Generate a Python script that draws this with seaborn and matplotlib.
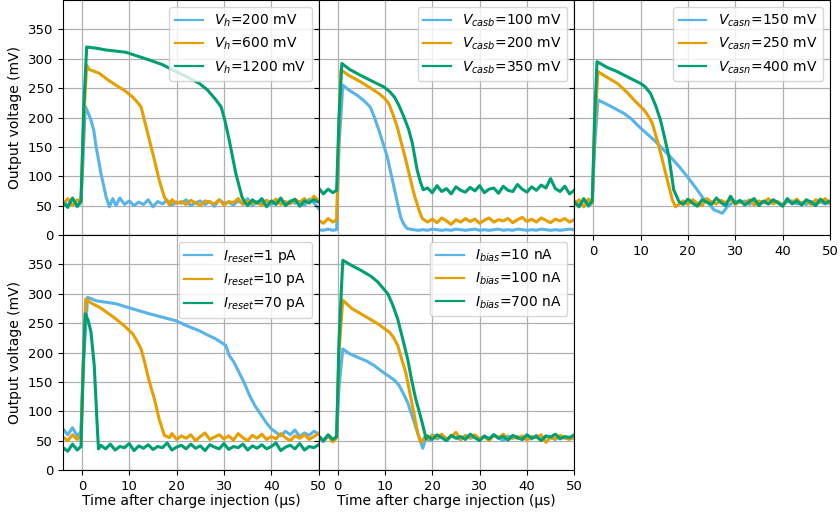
import matplotlib
matplotlib.use("Agg")
import matplotlib.pyplot as plt
import seaborn as sns

# colours for the three settings in each panel
BLUE, ORANGE, GREEN = "#56B4E9", "#E69F00", "#009E73"

PRE_T = [-4, -3, -2, -1, -0.2]

# --- panel 1: V_h ---
vh200_t = PRE_T + [0.3, 0.7, 1.2, 1.9, 2.5, 3.0, 3.5, 4.0, 4.6, 5.1, 5.8, 6.5, 7.2, 8, 9] + list(range(10, 51))
vh200_v = [58, 50, 62, 48, 55, 140, 219, 210, 196, 178, 150, 128, 105, 84, 65, 48, 62, 50, 63, 52,
           58, 50, 56, 52, 60, 48, 57, 53, 59, 51,
           56, 54, 60, 50, 55, 58, 52, 57, 49, 60,
           54, 56, 51, 58, 53, 62, 50, 57, 55, 59,
           52, 56, 60, 51, 58, 54, 57, 50, 61, 55, 45]
vh600_t = PRE_T + [0.4, 1.0, 1.5, 3.7, 5.5, 7.2, 9, 10.7, 11.7, 12.5, 13.2, 13.9, 14.6, 15.3, 16.3, 17.4, 18.5] + list(range(19, 51))
vh600_v = [52, 62, 50, 60, 56, 200, 289, 282, 275, 264, 255, 246, 235, 226, 218, 195, 173, 150, 128, 94, 65, 51,
           60, 54, 57, 52, 59, 55, 50, 58, 56, 53,
           60, 51, 57, 55, 62, 52, 58, 54, 56, 50,
           59, 55, 61, 52, 57, 53, 60, 56, 62, 54,
           66, 58]
vh1200_t = PRE_T + [0.4, 1.0, 3, 5, 9.3, 14.2, 17, 19.9, 22, 24.8, 26.5, 28.3, 29.4, 30.2, 31.1, 32.5, 33.8, 34.3] + list(range(35, 51))
vh1200_v = [55, 47, 63, 49, 58, 220, 320, 318, 315, 311, 298, 290, 278, 270, 258, 247, 230, 218, 195, 162, 105, 65, 57,
            50, 60, 54, 62, 48, 58, 52, 63, 50, 57,
            61, 49, 58, 55, 60, 56]

# --- panel 2: V_casb ---
casb100_t = PRE_T + [0.3, 1.1, 2.5, 4.1, 5.5, 6.9, 7.8, 8.7, 9.6, 10.5, 11.9, 13.3, 14.0, 14.7, 16] + list(range(17, 51))
casb100_v = [9, 8, 10, 8, 9, 150, 255, 246, 238, 229, 218, 200, 179, 156, 133, 82, 31, 18, 11, 9,
             8, 9, 8, 10, 9, 8, 9, 8, 10, 9,
             8, 9, 10, 8, 9, 8, 9, 10, 8, 9,
             8, 10, 9, 8, 9, 8, 10, 9, 8, 9,
             8, 9, 10, 9]
casb200_t = PRE_T + [0.3, 0.7, 2.5, 4.8, 7, 8.7, 10, 10.8, 11.7, 12.6, 13.5, 14.4, 16.1, 17.3, 17.9, 19] + list(range(20, 51))
casb200_v = [25, 20, 28, 22, 26, 180, 281, 271, 261, 250, 241, 232, 224, 205, 184, 156, 128, 71, 40, 28, 22,
             27, 21, 29, 24, 18, 26, 22, 28, 23, 27,
             20, 25, 29, 22, 26, 24, 28, 21, 26, 30,
             23, 27, 22, 29, 25, 21, 27, 24, 28, 22,
             26]
casb350_t = PRE_T + [0.3, 0.9, 2.5, 4.8, 7, 9.8, 11, 12, 13, 14, 15, 15.8, 16.8, 17.5, 18.1] + list(range(19, 51))
casb350_v = [80, 70, 78, 72, 76, 200, 292, 282, 272, 263, 252, 244, 235, 220, 201, 180, 156, 111, 90, 77,
             80, 72, 84, 74, 79, 70, 82, 76, 73, 81,
             75, 84, 72, 78, 80, 71, 83, 76, 74, 86,
             78, 73, 82, 76, 85, 80, 96, 79, 74, 83,
             70, 76]

# --- panel 3: V_casn ---
casn150_t = PRE_T + [0.3, 1.0, 3, 6.5, 8, 10, 12.8, 14.5, 16.3, 18, 19.9, 21.5, 23, 24.2, 25.5, 27.3, 28.3, 29.7] + list(range(31, 51))
casn150_v = [58, 50, 60, 49, 55, 150, 230, 222, 207, 198, 182, 162, 148, 133, 118, 99, 82, 65, 55, 43, 37, 48, 57,
             55, 58, 52, 57, 54, 56, 53, 57, 55, 52,
             56, 58, 53, 55, 52, 57, 54, 56, 53, 55]
casn250_t = PRE_T + [0.3, 1.0, 3, 5.1, 7, 8.6, 10.7, 11.6, 12.5, 13.2, 13.9, 15.3, 16.7, 17.4, 18.5] + list(range(19, 51))
casn250_v = [52, 60, 48, 61, 54, 180, 278, 268, 258, 244, 230, 213, 203, 190, 170, 150, 105, 60, 48, 55,
             58, 52, 60, 54, 50, 62, 56, 53, 59, 55,
             61, 52, 57, 54, 60, 51, 58, 55, 62, 53,
             57, 50, 59, 55, 61, 53, 58, 52, 60, 56,
             62, 54]
casn400_t = PRE_T + [0.3, 0.8, 3, 5.1, 7.5, 10, 11, 12.1, 13.2, 14.2, 15.1, 16, 17, 18.1] + list(range(19, 51))
casn400_v = [56, 48, 62, 50, 58, 200, 295, 285, 278, 268, 258, 252, 241, 220, 196, 165, 133, 77, 57,
             52, 61, 54, 49, 60, 56, 52, 63, 55, 50,
             66, 54, 59, 51, 57, 62, 50, 58, 53, 60,
             55, 49, 62, 53, 58, 51, 60, 56, 50, 61,
             54, 58]

# --- panel 4: I_reset ---
reset1_t = PRE_T + [0.3, 1.2, 3, 7.2, 10, 14.2, 17, 19.9, 22, 24.8, 26.5, 28.3, 30.4, 31.1, 32, 33.2, 34.3,
                    35.4, 36.5, 37.5, 38.9, 40, 41] + list(range(42, 51))
reset1_v = [70, 60, 72, 58, 66, 180, 294, 288, 283, 276, 266, 260, 254, 246, 237, 230, 223, 212, 195, 185, 166, 148,
            127, 110, 98, 81, 70, 64,
            58, 66, 60, 68, 57, 63, 59, 66, 61]
reset10_t = PRE_T + [0.3, 0.8, 2, 3.7, 5.5, 7.2, 9, 10.7, 11.6, 12.5, 13.2, 13.9, 14.6, 15.3, 16.3, 17.4, 18.5] + list(range(19, 51))
reset10_v = [56, 50, 60, 52, 58, 190, 291, 284, 277, 267, 257, 245, 232, 220, 206, 185, 161, 140, 121, 87, 59, 55,
             62, 52, 58, 54, 60, 50, 57, 63, 52, 56,
             60, 53, 58, 51, 62, 55, 50, 59, 54, 61,
             52, 57, 53, 62, 55, 50, 58, 54, 60, 52,
             57, 62]
reset70_t = PRE_T + [0.3, 0.7, 1.3, 1.9, 2.6, 3.3, 3.5] + list(range(4, 51))
reset70_v = [38, 32, 44, 34, 40, 180, 266, 255, 235, 178, 64, 36,
             42, 36, 44, 34, 40, 38, 45, 33, 41, 37,
             43, 35, 40, 38, 46, 34, 39, 42, 36, 44,
             37, 41, 33, 43, 39, 36, 45, 35, 40, 38,
             44, 34, 41, 37, 43, 36, 40, 46, 33, 39,
             42, 36, 45, 34, 40, 38, 43]

# --- panel 5: I_bias ---
bias10_t = PRE_T + [0.3, 1.1, 2.5, 4.2, 6, 7.7, 9, 10.6, 12, 13, 13.9, 14.8, 16.2, 17.3, 18, 18.7, 19.5] + list(range(20, 51))
bias10_v = [54, 48, 58, 50, 56, 140, 206, 198, 192, 186, 178, 170, 161, 153, 144, 130, 115, 81, 53, 37, 56, 50,
            60, 53, 57, 50, 58, 55, 52, 59, 54, 56,
            51, 57, 53, 60, 55, 50, 58, 54, 57, 52,
            56, 53, 59, 51, 57, 55, 52, 58, 54, 56,
            53]
bias100_t = PRE_T + [0.3, 1.1, 3, 4.9, 7, 8.5, 10, 10.9, 11.8, 12.7, 13.5, 14.4, 15.1, 15.8, 16.9, 17.6, 18.5] + list(range(19, 51))
bias100_v = [56, 50, 58, 48, 55, 200, 289, 275, 266, 256, 249, 240, 235, 226, 212, 190, 166, 138, 110, 64, 47, 57,
             52, 59, 55, 61, 53, 57, 64, 52, 58, 55,
             60, 53, 57, 50, 59, 55, 61, 52, 56, 54,
             58, 51, 57, 55, 60, 47, 56, 53, 59, 55,
             52, 57]
bias700_t = PRE_T + [0.3, 1.1, 3, 4.9, 7, 8.5, 10.6, 11.6, 12.7, 13.7, 14.8, 15.6, 16.5, 17.4, 18.2, 18.7] + list(range(19, 51))
bias700_v = [58, 50, 60, 52, 57, 220, 357, 348, 340, 330, 320, 300, 282, 257, 225, 189, 155, 121, 95, 70, 53,
             58, 52, 60, 55, 50, 59, 54, 57, 52, 61,
             55, 50, 58, 53, 60, 54, 57, 51, 59, 55,
             52, 60, 54, 57, 50, 58, 56, 61, 53, 57,
             55, 60]

panels = [
    [(vh200_t, vh200_v, r"$V_h$=200 mV"), (vh600_t, vh600_v, r"$V_h$=600 mV"), (vh1200_t, vh1200_v, r"$V_h$=1200 mV")],
    [(casb100_t, casb100_v, r"$V_{casb}$=100 mV"), (casb200_t, casb200_v, r"$V_{casb}$=200 mV"), (casb350_t, casb350_v, r"$V_{casb}$=350 mV")],
    [(casn150_t, casn150_v, r"$V_{casn}$=150 mV"), (casn250_t, casn250_v, r"$V_{casn}$=250 mV"), (casn400_t, casn400_v, r"$V_{casn}$=400 mV")],
    [(reset1_t, reset1_v, r"$I_{reset}$=1 pA"), (reset10_t, reset10_v, r"$I_{reset}$=10 pA"), (reset70_t, reset70_v, r"$I_{reset}$=70 pA")],
    [(bias10_t, bias10_v, r"$I_{bias}$=10 nA"), (bias100_t, bias100_v, r"$I_{bias}$=100 nA"), (bias700_t, bias700_v, r"$I_{bias}$=700 nA")],
]

plt.rcParams.update({"font.family": ["DejaVu Sans"], "font.size": 9.5})

fig, axes = plt.subplots(2, 3, figsize=(8.4, 5.14), dpi=100, sharex=True, sharey=True)
fig.subplots_adjust(left=0.075, right=0.988, bottom=0.0856, top=1.0, wspace=0, hspace=0)
axes[1, 2].remove()

flat = [axes[0, 0], axes[0, 1], axes[0, 2], axes[1, 0], axes[1, 1]]
for ax, series in zip(flat, panels):
    for (t, v, label), color in zip(series, [BLUE, ORANGE, GREEN]):
        sns.lineplot(x=t, y=v, ax=ax, color=color, lw=2.2, label=label,
                     estimator=None, sort=False)
    ax.set_xlim(-4, 50)
    ax.set_ylim(0, 400)
    ax.set_xticks(range(0, 51, 10))
    ax.set_yticks(range(0, 351, 50))
    ax.tick_params(labelsize=9.5)
    ax.grid(True, color="#b0b0b0", lw=0.9)
    ax.set_axisbelow(True)
    ax.set_xlabel("")
    ax.set_ylabel("")
    leg = ax.legend(loc="upper right", fontsize=10)
    for line in leg.get_lines():
        line.set_linewidth(1.6)

for ax in [axes[0, 0], axes[1, 0]]:
    ax.set_ylabel("Output voltage (mV)", fontsize=10)
for ax in [axes[1, 0], axes[1, 1], axes[0, 2]]:
    ax.set_xlabel("Time after charge injection (µs)", fontsize=10, labelpad=1)
axes[0, 2].xaxis.set_tick_params(labelbottom=True)

plt.savefig("out.png", dpi=100)
plt.close()
